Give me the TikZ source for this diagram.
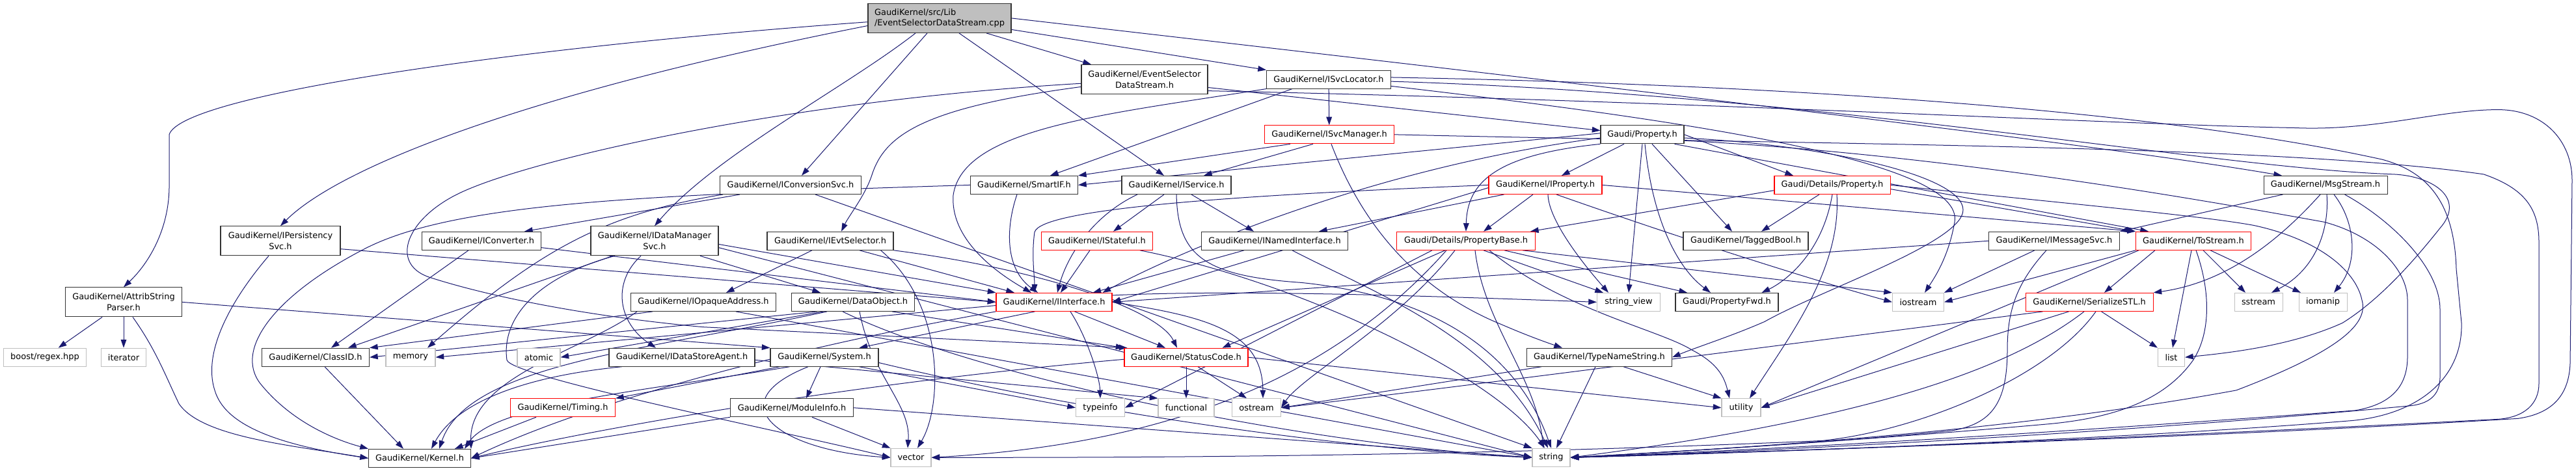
\documentclass[tikz,border=0pt]{standalone}
\usepackage{fontspec}
\setmainfont{DejaVu Sans}
\usetikzlibrary{arrows.meta,calc}
\definecolor{edgec}{RGB}{25,25,112}
\definecolor{graybd}{RGB}{191,191,191}
\definecolor{mainfill}{RGB}{191,191,191}
\pgfdeclarelayer{bgl}
\pgfdeclarelayer{edges}
\pgfsetlayers{bgl,edges,main}
\tikzset{
  nd/.style={rectangle, fill=white, inner sep=0pt, line width=0.8pt, font=\fontsize{9.7}{12.4}\selectfont, minimum height=21pt, align=center},
  nb/.style={nd, draw=black!80},
  nr/.style={nd, draw=red},
  ng/.style={nd, draw=graybd},
  nmain/.style={nd, draw=black!80, fill=mainfill, align=left},
  wd/.style={minimum width=#1*0.75pt},
  tall/.style={minimum height=33.75pt},
  e/.style={draw=edgec, line width=0.75pt, -{Triangle[length=9.5pt,width=6.5pt]}},
}
\begin{document}
\begin{tikzpicture}[x=0.75pt,y=-0.7757pt]
\begin{pgfonlayer}{bgl}
\fill[white] (0,0) rectangle (3959,700);
\end{pgfonlayer}
\useasboundingbox (0,0) rectangle (3959,700);
% ---------- nodes ----------
\node[nmain, wd=220, tall] (main) at (1444,27) {GaudiKernel/src/Lib\\/EventSelectorDataStream.cpp};
\node[nb, wd=179, tall] (attrib) at (190,449) {GaudiKernel/AttribString\\Parser.h};
\node[nb, wd=184, tall] (ipers) at (431,358) {GaudiKernel/IPersistency\\Svc.h};
\node[ng, wd=127] (boost) at (69,531) {boost/regex.hpp};
\node[ng, wd=69] (iterator) at (190,531) {iterator};
\node[nb, wd=165] (classid) at (485,531) {GaudiKernel/ClassID.h};
\node[ng, wd=76] (memory) at (631,531) {memory};
\node[nb, wd=157] (kernel) at (645,681) {GaudiKernel/Kernel.h};
\node[nb, wd=217] (iconvsvc) at (1215,275) {GaudiKernel/IConversionSvc.h};
\node[nb, wd=183] (iconverter) at (740,358) {GaudiKernel/IConverter.h};
\node[nb, wd=196, tall] (idatamgr) at (1006,358) {GaudiKernel/IDataManager\\Svc.h};
\node[nb, wd=194] (ievtsel) at (1276,358) {GaudiKernel/IEvtSelector.h};
\node[nb, wd=223] (iopaque) at (1081,449) {GaudiKernel/IOpaqueAddress.h};
\node[nb, wd=189] (dataobj) at (1311,449) {GaudiKernel/DataObject.h};
\node[ng, wd=66] (atomic) at (828,531) {atomic};
\node[nb, wd=224] (idsa) at (1048,531) {GaudiKernel/IDataStoreAgent.h};
\node[nb, wd=166] (system) at (1267,531) {GaudiKernel/System.h};
\node[nr, wd=161] (timing) at (865,606) {GaudiKernel/Timing.h};
\node[nb, wd=189] (modinfo) at (1217,606) {GaudiKernel/ModuleInfo.h};
\node[nb, wd=194, tall] (esds) at (1759,118) {GaudiKernel/EventSelector\\DataStream.h};
\node[nb, wd=191] (isvcloc) at (2042,118) {GaudiKernel/ISvcLocator.h};
\node[nr, wd=199] (isvcmgr) at (2043,200) {GaudiKernel/ISvcManager.h};
\node[nb, wd=165] (smartif) at (1574,275) {GaudiKernel/SmartIF.h};
\node[nb, wd=168] (iservice) at (1808,275) {GaudiKernel/IService.h};
\node[nr, wd=171] (istateful) at (1686,358) {GaudiKernel/IStateful.h};
\node[nb, wd=225] (inamed) at (1959,358) {GaudiKernel/INamedInterface.h};
\node[nr, wd=178] (iinterface) at (1620,449) {GaudiKernel/IInterface.h};
\node[nr, wd=190] (statuscode) at (1823,531) {GaudiKernel/StatusCode.h};
\node[ng, wd=75] (typeinfo) at (1691,606) {typeinfo};
\node[ng, wd=86] (functional) at (1823,606) {functional};
\node[ng, wd=75] (ostream) at (1931,606) {ostream};
\node[ng, wd=62] (vector) at (1400,680) {vector};
\node[nb, wd=128] (gprop) at (2524,200) {Gaudi/Property.h};
\node[nr, wd=174] (iprop) at (2375,275) {GaudiKernel/IProperty.h};
\node[nr, wd=213] (propbase) at (2253,358) {Gaudi/Details/PropertyBase.h};
\node[ng, wd=97] (strview) at (2503,449) {string\_view};
\node[nb, wd=223] (typename) at (2458,531) {GaudiKernel/TypeNameString.h};
\node[ng, wd=58] (string) at (2384,680) {string};
\node[nb, wd=158] (propfwd) at (2654,449) {Gaudi/PropertyFwd.h};
\node[nb, wd=192] (tagged) at (2683,358) {GaudiKernel/TaggedBool.h};
\node[ng, wd=60] (utility) at (2676,606) {utility};
\node[nr, wd=178] (detprop) at (2816,275) {Gaudi/Details/Property.h};
\node[ng, wd=79] (iostream) at (2948,449) {iostream};
\node[nb, wd=201] (imsgsvc) at (3157,358) {GaudiKernel/IMessageSvc.h};
\node[nr, wd=196] (serial) at (3211,449) {GaudiKernel/SerializeSTL.h};
\node[nr, wd=177] (tostream) at (3371,358) {GaudiKernel/ToStream.h};
\node[nb, wd=190] (msgstream) at (3574,275) {GaudiKernel/MsgStream.h};
\node[ng, wd=74] (sstream) at (3471,449) {sstream};
\node[ng, wd=74] (iomanip) at (3570,449) {iomanip};
\node[ng, wd=41] (list) at (3337,531) {list};

\begin{pgfonlayer}{edges}
% main
\draw[e] (main.183) .. controls (800,70) and (280,140) .. (260,200) -- (260,280) .. controls (259,340) and (230,390) .. (attrib.north);
\draw[e] (main.186) .. controls (800,140) and (520,250) .. (ipers.north);
\draw[e] ($(main.south)+(-37,0)$) .. controls (1300,130) and (1100,230) .. (idatamgr.north);
\draw[e] ($(main.south)+(-19,0)$) -- ($(iconvsvc.north)+(17,0)$);
\draw[e] ($(main.south)+(30,0)$) -- ($(iservice.north)+(-19,0)$);
\draw[e] ($(main.south)+(72,0)$) -- ($(esds.north)+(-82,0)$);
\draw[e] (main.-9) -- (isvcloc.north west);
\draw[e] (main.east) .. controls (2300,110) and (3200,210) .. ($(msgstream.north)+(-67,0)$);
% attrib
\draw[e] (attrib) -- (boost);
\draw[e] (attrib) -- (iterator);
\draw[e] ($(attrib.south)+(14,0)$) .. controls (240,520) and (255,560) .. (275,600) .. controls (310,650) and (450,662) .. (kernel.west);
\draw[e] (attrib.east) -- (system.north west);
% ipers
\draw[e] ($(ipers.south)+(-18,0)$) .. controls (360,440) and (310,520) .. (330,580) .. controls (345,630) and (420,660) .. (kernel.west);
\draw[e] ($(ipers.east)+(0,12)$) -- (iinterface.west);
% iconvsvc, iconverter
\draw[e] ($(iconvsvc.south)+(-78,0)$) -- ($(iconverter.north)+(66,0)$);
\draw[e] ($(iconvsvc.south)+(38,0)$) -- (string.north west);
\draw[e] ($(iconvsvc.south west)+(5,0)$) .. controls (930,318) and (830,370) .. ($(memory.north)+(26,0)$);
\draw[e] ($(iconverter.south)+(-20,0)$) -- ($(classid.north)+(24,0)$);
\draw[e] ($(iconverter.east)+(0,10)$) -- (iinterface.west);
% idatamgr
\draw[e] ($(idatamgr.south)+(-64,0)$) -- ($(classid.north)+(50,0)$);
\draw[e] ($(idatamgr.south)+(-21,0)$) .. controls (940,420) and (950,480) .. ($(idsa.north)+(-40,0)$);
\draw[e] ($(idatamgr.south)+(70,0)$) -- ($(dataobj.north)+(-50,0)$);
\draw[e] ($(idatamgr.east)+(0,5)$) -- (iinterface.north west);
\draw[e] ($(idatamgr.east)+(0,10)$) -- (string.west);
\draw[e] ($(idatamgr.south)+(-61,0)$) .. controls (830,410) and (770,470) .. (779,535) .. controls (785,560) and (1200,640) .. (vector.west);
% ievtsel
\draw[e] ($(ievtsel.south)+(-28,0)$) -- ($(iopaque.north)+(35,0)$);
\draw[e] ($(ievtsel.south)+(45,0)$) -- ($(iinterface.north)+(-61,0)$);
\draw[e] (ievtsel.south east) .. controls (1600,400) and (1780,460) .. ($(statuscode.north)+(-14,0)$);
\draw[e] ($(ievtsel.south east)+(-20,0)$) .. controls (1450,450) and (1450,600) .. ($(vector.north)+(10,0)$);
% iopaque
\draw[e] ($(iopaque.south)+(-78,0)$) -- (classid.north east);
\draw[e] ($(iopaque.south)+(50,0)$) -- (string.west);
\draw[e] ($(iopaque.south west)+(10,0)$) .. controls (900,520) and (720,560) .. (kernel.north east);
% dataobj
\draw[e] ($(dataobj.south west)+(40,0)$) -- (classid.east);
\draw[e] ($(dataobj.south west)+(50,0)$) -- (atomic.east);
\draw[e] ($(dataobj.south west)+(55,0)$) .. controls (1000,520) and (720,540) .. ($(kernel.north)+(30,0)$);
\draw[e] ($(dataobj.south east)+(-35,0)$) -- (statuscode.north west);
\draw[e] ($(dataobj.south)+(-16,0)$) .. controls (1500,560) and (2000,660) .. (string.west);
\draw[e] ($(dataobj.south)+(10,0)$) .. controls (1340,560) and (1400,600) .. ($(vector.north)+(-5,0)$);
% idsa
\draw[e] ($(idsa.south west)+(20,0)$) .. controls (800,560) and (700,600) .. ($(kernel.north)+(18,0)$);
\draw[e] ($(idsa.east)+(0,4)$) -- (functional.north west);
% system
\draw[e] ($(system.south west)+(30,0)$) .. controls (1000,580) and (760,600) .. ($(kernel.north east)+(-10,0)$);
\draw[e] ($(system.south)+(-6,0)$) -- ($(modinfo.north)+(22,0)$);
\draw[e] ($(system.south west)+(15,0)$) -- (timing.north east);
\draw[e] ($(system.south)+(-25,0)$) .. controls (1100,600) and (1200,670) .. (vector.west);
\draw[e] ($(system.east)+(0,8)$) .. controls (1700,620) and (2100,670) .. (string.west);
\draw[e] ($(system.south east)+(-30,0)$) -- (typeinfo.west);
% timing, modinfo, classid
\draw[e] ($(timing.south west)+(40,0)$) -- ($(kernel.north east)+(-25,0)$);
\draw[e] (modinfo.south west) -- (kernel.east);
\draw[e] (modinfo.east) -- (string.west);
\draw[e] ($(modinfo.south)+(31,0)$) -- (vector.north west);
\draw[e] ($(classid.south)+(14,0)$) -- ($(kernel.north)+(-25,0)$);
% esds
\draw[e] ($(esds.west)+(0,11)$) .. controls (1420,160) and (1360,200) .. (1340,260) .. controls (1330,290) and (1305,320) .. ($(ievtsel.north)+(17,0)$);
\draw[e] ($(esds.east)+(0,12)$) -- ($(gprop.west)+(0,-6)$);
\draw[e] ($(esds.west)+(0,6)$) .. controls (1200,150) and (800,240) .. (700,290) .. controls (620,330) and (600,395) .. (663,413) .. controls (750,440) and (900,470) .. (1080,486) -- ($(statuscode.north west)+(5,0)$);
\draw[e] ($(esds.east)+(0,17)$) .. controls (2600,150) and (3250,185) .. (3527,190) .. controls (3650,195) and (3750,163) .. (3839,163) .. controls (3910,163) and (3953,210) .. (3953,268) -- (3950,540) .. controls (3948,590) and (3920,615) .. (3870,622) .. controls (3400,650) and (2800,668) .. (string.east);
% isvcloc
\draw[e] (isvcloc) -- (isvcmgr);
\draw[e] ($(isvcloc.south west)+(40,0)$) -- ($(smartif.north)+(40,0)$);
\draw[e] (isvcloc.south west) .. controls (1700,170) and (1480,190) .. (1465,290) .. controls (1460,360) and (1540,410) .. ($(iinterface.north)+(-35,0)$);
\draw[e] ($(isvcloc.east)+(0,-3)$) .. controls (2700,125) and (3300,160) .. (3661,237) .. controls (3730,255) and (3772,300) .. (3775,400) -- (3783,480) .. controls (3785,560) and (3720,615) .. (3616,625) .. controls (3300,650) and (2800,670) .. (string.east);
\draw[e] ($(isvcloc.east)+(0,3)$) .. controls (2800,140) and (3400,250) .. (3679,259) .. controls (3740,262) and (3790,295) .. (3750,339) .. controls (3700,400) and (3650,450) .. (3600,480) .. controls (3520,515) and (3420,525) .. (list.east);
\draw[e] ($(isvcloc.east)+(0,10)$) .. controls (2600,180) and (3020,240) .. (3004,330) .. controls (2995,380) and (2975,410) .. ($(iostream.north)+(10,0)$);
% isvcmgr
\draw[e] ($(isvcmgr.south west)+(40,0)$) -- (smartif.north east);
\draw[e] ($(isvcmgr.south west)+(75,0)$) -- ($(iservice.north)+(42,0)$);
\draw[e] ($(isvcmgr.south)+(3,0)$) .. controls (2080,300) and (2150,420) .. (2307,482) .. controls (2350,500) and (2380,510) .. ($(typename.north)+(-57,0)$);
\draw[e] (isvcmgr.east) .. controls (2800,215) and (3500,215) .. (3817,259) .. controls (3880,280) and (3902,310) .. (3902,360) -- (3902,570) .. controls (3902,600) and (3880,620) .. (3840,623) .. controls (3300,650) and (2800,670) .. (string.east);
% smartif
\draw[e] ($(smartif.south)+(-11,0)$) .. controls (1545,340) and (1545,400) .. ($(iinterface.north)+(-25,0)$);
\draw[e] (smartif.west) .. controls (1000,290) and (700,300) .. (560,370) .. controls (420,440) and (360,520) .. (400,570) .. controls (450,630) and (520,655) .. (kernel.north west);
% iservice
\draw[e] ($(iservice.south)+(-19,0)$) -- ($(istateful.north)+(25,0)$);
\draw[e] ($(iservice.south)+(23,0)$) -- ($(inamed.north)+(-32,0)$);
\draw[e] ($(iservice.south)+(-60,0)$) .. controls (1680,320) and (1640,380) .. ($(iinterface.north)+(5,0)$);
\draw[e] ($(iservice.south)+(0,0)$) .. controls (1810,380) and (1850,410) .. (2000,420) .. controls (2200,440) and (2330,520) .. (string.north);
% istateful, inamed
\draw[e] ($(istateful.south)+(-11,0)$) -- ($(iinterface.north)+(10,0)$);
\draw[e] ($(istateful.south east)+(-20,0)$) .. controls (2000,420) and (2300,560) .. ($(string.north)+(-10,0)$);
\draw[e] ($(inamed.south west)+(66,0)$) -- ($(iinterface.north east)+(-30,0)$);
\draw[e] ($(inamed.south)+(27,0)$) .. controls (2100,430) and (2300,500) .. ($(string.north)+(-5,0)$);
% iinterface
\draw[e] ($(iinterface.south)+(25,0)$) .. controls (1670,500) and (1690,560) .. (typeinfo.north);
\draw[e] ($(iinterface.south east)+(-58,0)$) -- ($(statuscode.north)+(-32,0)$);
\draw[e] (iinterface.east) .. controls (1850,470) and (1940,490) .. ($(ostream.north)+(10,0)$);
\draw[e] (iinterface.south west) .. controls (1200,520) and (900,600) .. (kernel.east);
\draw[e] ($(iinterface.south west)+(60,0)$) -- ($(system.north east)+(-30,0)$);
\draw[e] ($(iinterface.west)+(0,5)$) -- (memory.east);
\draw[e] ($(iinterface.north east)+(0,4)$) .. controls (1900,430) and (2200,440) .. (strview.west);
% statuscode
\draw[e] (statuscode) -- (functional);
\draw[e] ($(statuscode.south)+(18,0)$) -- ($(ostream.north)+(-15,0)$);
\draw[e] ($(statuscode.west)+(0,3)$) .. controls (1300,570) and (900,640) .. (kernel.east);
\draw[e] (statuscode.east) -- (utility.west);
% gprop
\draw[e] ($(gprop.south)+(-28,0)$) -- ($(iprop.north)+(25,0)$);
\draw[e] (gprop.south west) .. controls (2300,230) and (2255,270) .. (propbase.north);
\draw[e] (gprop.south) -- (strview.north);
\draw[e] ($(gprop.south)+(4,0)$) .. controls (2540,330) and (2580,400) .. ($(propfwd.north)+(-25,0)$);
\draw[e] ($(gprop.south)+(15,0)$) -- ($(tagged.north)+(-21,0)$);
\draw[e] (gprop.east) -- ($(detprop.north)+(-60,0)$);
\draw[e] ($(gprop.south east)+(-15,0)$) -- ($(tostream.north west)+(20,0)$);
\draw[e] ($(gprop.west)+(0,-2)$) -- (smartif.east);
\draw[e] ($(gprop.west)+(0,5)$) .. controls (2100,250) and (1800,380) .. ($(iinterface.north east)+(-15,0)$);
\draw[e] ($(gprop.east)+(0,5)$) .. controls (2800,215) and (3017,260) .. (3017,312) .. controls (3017,360) and (2800,430) .. (2712,478) .. controls (2660,500) and (2610,515) .. (typename.east);
\draw[e] ($(gprop.east)+(0,9)$) .. controls (3000,230) and (3400,300) .. (3572,330) .. controls (3650,350) and (3700,400) .. (3700,446) -- (3700,530) .. controls (3700,570) and (3680,600) .. (3620,610) .. controls (3200,640) and (2800,665) .. (string.east);
% iprop
\draw[e] ($(iprop.south)+(-19,0)$) -- ($(propbase.north)+(27,0)$);
\draw[e] ($(iprop.south west)+(24,0)$) -- ($(inamed.north east)+(-45,0)$);
\draw[e] (iprop.west) .. controls (1900,290) and (1600,310) .. (1590,345) .. controls (1585,380) and (1590,410) .. ($(iinterface.north)+(-30,0)$);
\draw[e] ($(iprop.west)+(0,4)$) -- (iinterface.east);
\draw[e] ($(iprop.south)+(4,0)$) .. controls (2380,330) and (2440,400) .. ($(strview.north)+(-31,0)$);
\draw[e] (iprop.east) -- (tostream.north west);
\draw[e] ($(iprop.south)+(17,0)$) .. controls (2600,360) and (2800,420) .. (iostream.west);
% propbase
\draw[e] ($(propbase.south)+(27,0)$) -- ($(strview.north west)+(10,0)$);
\draw[e] ($(propbase.south)+(59,0)$) -- ($(propfwd.north)+(-61,0)$);
\draw[e] ($(propbase.south)+(14,0)$) .. controls (2280,480) and (2360,560) .. ($(string.north)+(-12,0)$);
\draw[e] ($(propbase.south)+(36,0)$) .. controls (2400,460) and (2550,490) .. (2600,520) .. controls (2640,540) and (2650,560) .. ($(utility.north)+(-18,0)$);
\draw[e] ($(propbase.south west)+(55,0)$) -- (typeinfo.east);
\draw[e] ($(propbase.south west)+(75,0)$) -- ($(statuscode.north east)+(-40,0)$);
\draw[e] ($(propbase.south)+(-17,0)$) .. controls (2150,480) and (2000,560) .. (ostream.east);
\draw[e] ($(propbase.south)+(-30,0)$) .. controls (2050,560) and (1800,660) .. (vector.east);
\draw[e] ($(propbase.south east)+(-20,0)$) -- (iostream.north west);
% detprop
\draw[e] ($(detprop.west)+(0,8)$) -- ($(propbase.north east)+(-8,0)$);
\draw[e] ($(detprop.south)+(-20,0)$) -- ($(tagged.north)+(24,0)$);
\draw[e] ($(detprop.south)+(0,0)$) .. controls (2800,380) and (2740,420) .. ($(propfwd.north east)+(-26,0)$);
\draw[e] ($(detprop.south)+(7,0)$) .. controls (2830,400) and (2750,500) .. ($(utility.north)+(13,0)$);
\draw[e] ($(detprop.east)+(0,6)$) -- (tostream.north west);
\draw[e] (detprop.east) .. controls (3150,300) and (3380,320) .. (3464,335) .. controls (3560,355) and (3620,400) .. (3630,446) .. controls (3640,480) and (3600,520) .. (3437,580) .. controls (3100,640) and (2700,665) .. (string.east);
% typename
\draw[e] ($(typename.south)+(-6,0)$) -- ($(string.north)+(8,0)$);
\draw[e] ($(typename.south east)+(-75,0)$) -- (utility.north west);
\draw[e] ($(typename.south west)+(23,0)$) -- (ostream.east);
% imsgsvc
\draw[e] (imsgsvc.west) -- (iinterface.east);
\draw[e] ($(imsgsvc.south)+(-30,0)$) -- (iostream.north east);
\draw[e] ($(imsgsvc.south)+(-12,0)$) .. controls (3100,420) and (3085,460) .. (3085,520) .. controls (3085,600) and (3060,630) .. (3000,640) .. controls (2800,660) and (2500,675) .. (string.east);
% tostream
\draw[e] (tostream.south west) -- (iostream.east);
\draw[e] ($(tostream.south west)+(30,0)$) -- ($(serial.north)+(23,0)$);
\draw[e] ($(tostream.south)+(-3,0)$) -- ($(list.north)+(2,0)$);
\draw[e] ($(tostream.south)+(15,0)$) -- ($(sstream.north)+(-20,0)$);
\draw[e] ($(tostream.south)+(26,0)$) -- ($(iomanip.north)+(-34,0)$);
\draw[e] ($(tostream.south)+(4,0)$) .. controls (3400,440) and (3395,500) .. (3370,536) .. controls (3330,590) and (3260,620) .. (3150,630) .. controls (2800,660) and (2500,675) .. (string.east);
\draw[e] ($(tostream.south west)+(5,0)$) -- (utility.east);
% serial
\draw[e] ($(serial.south east)+(-80,0)$) -- (list.north west);
\draw[e] ($(serial.south)+(-8,0)$) .. controls (3100,540) and (2900,620) .. (string.east);
\draw[e] ($(serial.south west)+(67,0)$) -- (utility.east);
\draw[e] ($(serial.south west)+(27,0)$) .. controls (2600,530) and (2200,580) .. (ostream.east);
\draw[e] ($(serial.south)+(10,0)$) .. controls (3150,560) and (2950,640) .. (2800,655) .. controls (2200,680) and (1700,680) .. (vector.east);
% msgstream
\draw[e] ($(msgstream.south west)+(30,0)$) -- (imsgsvc.north east);
\draw[e] ($(msgstream.south)+(-8,0)$) .. controls (3500,360) and (3420,420) .. (serial.north east);
\draw[e] ($(msgstream.south)+(2,0)$) .. controls (3580,340) and (3560,400) .. ($(sstream.north)+(20,0)$);
\draw[e] ($(msgstream.south)+(13,0)$) .. controls (3620,330) and (3625,390) .. ($(iomanip.north)+(17,0)$);
\draw[e] ($(msgstream.south east)+(-66,0)$) .. controls (3680,330) and (3750,400) .. (3750,460) -- (3750,560) .. controls (3750,590) and (3730,600) .. (3705,603) .. controls (3300,640) and (2800,668) .. (string.east);
\end{pgfonlayer}
\end{tikzpicture}
\end{document}
